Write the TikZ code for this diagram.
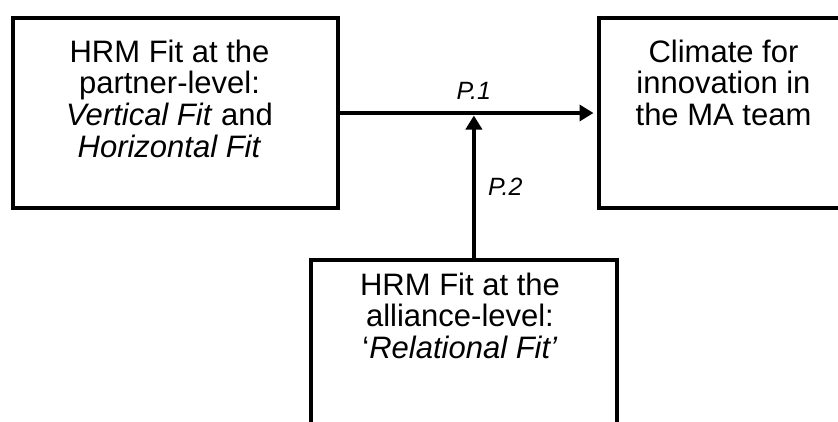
\documentclass[tikz,border=0pt]{standalone}
\usepackage{fontspec}
\setmainfont{Liberation Sans}
\usetikzlibrary{positioning,arrows.meta}

\begin{document}
\begin{tikzpicture}[x=1pt,y=-1pt,
        box/.style={draw, line width=4pt, inner sep=0pt},
        txt/.style={inner sep=0pt, align=center,
                        font=\fontsize{31}{31.7}\selectfont},
        lab/.style={inner sep=0pt, font=\fontsize{25}{27}\selectfont\itshape},
        arr/.style={line width=4pt, -{Triangle[length=14pt,width=16pt]}}]
    \useasboundingbox (0,0) rectangle (838,421);
    \clip (0,0) rectangle (838,421);
    % the three boxes
    \node[box, minimum width=325pt, minimum height=190pt] (partner) at (175.5,113) {};
    \node[box, minimum width=250pt, minimum height=190pt] (climate) at (723.5,113) {};
    \node[box, minimum width=306pt, minimum height=240pt] (alliance) at (464,379.5) {};
    \node[txt, below=23.5pt of partner.north, xshift=-6pt] (partnertxt)
        {HRM Fit at the\\ partner-level:\\ \textit{Vertical Fit} and\\ \textit{Horizontal Fit}};
    \node[txt, below=23.5pt of climate.north] (climatetxt)
        {Climate for\\ innovation in\\ the MA team};
    \node[txt, below=15pt of alliance.north, xshift=-4pt] (alliancetxt)
        {HRM Fit at the\\ alliance-level:\\ `\textit{Relational Fit'}};
    % propositions
    \draw[arr, shorten >=3pt] (partner) -- (climate) coordinate[pos=0.522] (meet);
    \draw[arr, shorten >=2.5pt] (meet |- alliance.north) -- (meet);
    \node[lab, above=13pt of meet] (pone) {P.1};
    \node[lab, anchor=west] (ptwo) at ([xshift=14pt,yshift=-74pt]meet) {P.2};
\end{tikzpicture}
\end{document}
